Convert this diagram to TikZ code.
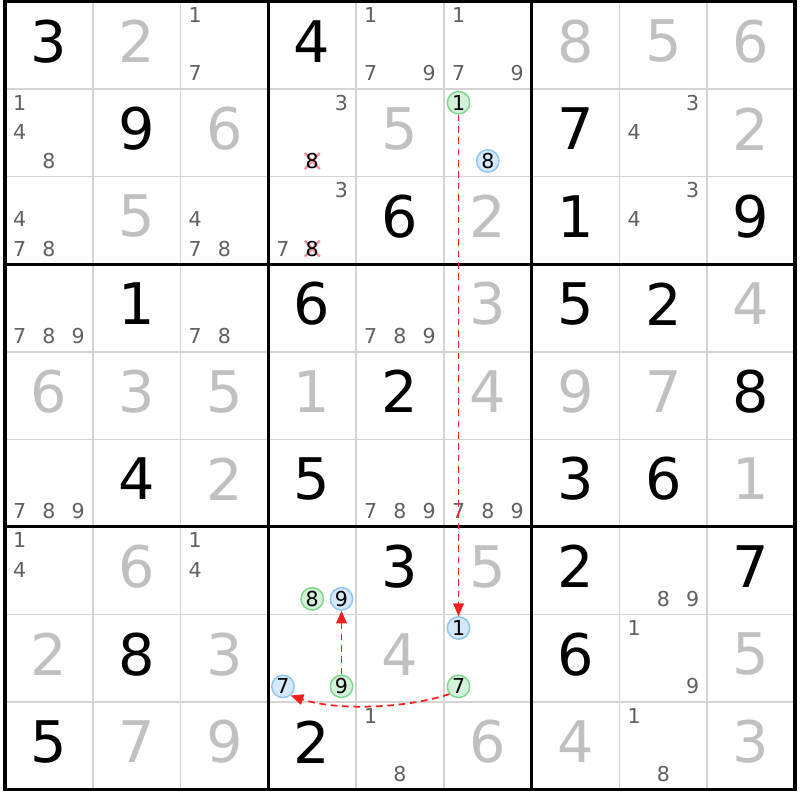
\documentclass[tikz,border=0pt]{standalone}
\usepackage{fontspec}
\setmainfont{DejaVu Sans}
\usetikzlibrary{arrows.meta}
\definecolor{gridgray}{HTML}{D4D4D4}
\definecolor{solvedgray}{HTML}{C0C0C0}
\definecolor{candgray}{HTML}{606060}
\definecolor{hlgreenfill}{HTML}{D3F2D9}
\definecolor{hlgreenline}{HTML}{7DD58E}
\definecolor{hlbluefill}{HTML}{D5E8FB}
\definecolor{hlblueline}{HTML}{8EC5F3}
\definecolor{linkred}{HTML}{F42020}
\definecolor{xpink}{HTML}{F490A0}
\def\CW{87.78}
\def\CH{87.56}
\newcommand\setcandpos[3]{%
  \pgfmathsetmacro\cpx{5+(#2-1)*\CW+(2*mod(#3-1,3)+1)*\CW/6}%
  \pgfmathsetmacro\cpy{1.5+(#1-1)*\CH+(2*floor((#3-1)/3)+1)*\CH/6-1}}
\begin{document}
\begin{tikzpicture}[x=0.75pt,y=-0.75pt,
  bigdigit/.style={font=\fontsize{43}{43}\selectfont, inner sep=0pt, anchor=center},
  givendigit/.style={bigdigit, text=black},
  solveddigit/.style={bigdigit, text=solvedgray},
  canddigit/.style={font=\fontsize{15.4}{15.4}\selectfont, inner sep=0pt, text=candgray},
  elimdigit/.style={canddigit, text=black},
  hlbase/.style={circle, line width=1.1pt, minimum size=16.8pt, inner sep=0pt,
    font=\fontsize{15.4}{15.4}\selectfont, text=black},
  hlgreen/.style={hlbase, draw=hlgreenline, fill=hlgreenfill},
  hlblue/.style={hlbase, draw=hlblueline, fill=hlbluefill},
  thinline/.style={draw=gridgray, line width=1.2pt},
  thickline/.style={draw=black, line width=2.3pt},
  link/.style={draw=linkred, line width=1.3pt, dash pattern=on 5pt off 3.5pt,
    -{Triangle[length=9.5pt,width=8pt,fill=linkred]}},
  xmark/.style={draw=xpink, line width=1.8pt}
]
\useasboundingbox[fill=white] (0,0) rectangle (800,800);
% thin grid lines
\foreach \i in {1,2,4,5,7,8} {
  \draw[thinline] ({5+\i*\CW},1.5) -- ({5+\i*\CW},789.5);
  \draw[thinline] (5,{1.5+\i*\CH}) -- (795,{1.5+\i*\CH});
}
% thick box lines
\foreach \i in {3,6} {
  \draw[thickline] ({5+\i*\CW},1.5) -- ({5+\i*\CW},789.5);
  \draw[thickline] (5,{1.5+\i*\CH}) -- (795,{1.5+\i*\CH});
}
\draw[thickline] (5,1.5) rectangle (795,789.5);
% given digits
\foreach \r/\c/\d in {1/1/3,1/4/4,2/2/9,2/7/7,3/5/6,3/7/1,3/9/9,4/2/1,4/4/6,4/7/5,4/8/2,
  5/5/2,5/9/8,6/2/4,6/4/5,6/7/3,6/8/6,7/5/3,7/7/2,7/9/7,8/2/8,8/7/6,9/1/5,9/4/2} {
  \node[givendigit] (n\r-\c) at ({5+(\c-0.5)*\CW},{1.5+(\r-0.5)*\CH-4}) {\d};
}
% solved digits
\foreach \r/\c/\d in {1/2/2,1/7/8,1/8/5,1/9/6,2/3/6,2/5/5,2/9/2,3/2/5,3/6/2,4/6/3,4/9/4,
  5/1/6,5/2/3,5/3/5,5/4/1,5/6/4,5/7/9,5/8/7,6/3/2,6/9/1,7/2/6,7/6/5,
  8/1/2,8/3/3,8/5/4,8/9/5,9/2/7,9/3/9,9/6/6,9/7/4,9/9/3} {
  \node[solveddigit] (n\r-\c) at ({5+(\c-0.5)*\CW},{1.5+(\r-0.5)*\CH-4}) {\d};
}
% candidates
\foreach \r/\c/\d in {1/3/1,1/3/7,1/5/1,1/5/7,1/5/9,1/6/1,1/6/7,1/6/9,
  2/1/1,2/1/4,2/1/8,2/4/3,2/8/3,2/8/4,
  3/1/4,3/1/7,3/1/8,3/3/4,3/3/7,3/3/8,3/4/3,3/4/7,3/8/3,3/8/4,
  4/1/7,4/1/8,4/1/9,4/3/7,4/3/8,4/5/7,4/5/8,4/5/9,
  6/1/7,6/1/8,6/1/9,6/5/7,6/5/8,6/5/9,6/6/7,6/6/8,6/6/9,
  7/1/1,7/1/4,7/3/1,7/3/4,7/8/8,7/8/9,
  8/8/1,8/8/9,9/5/1,9/5/8,9/8/1,9/8/8} {
  \setcandpos{\r}{\c}{\d}
  \node[canddigit] (k\r-\c-\d) at (\cpx,\cpy) {\d};
}
% eliminated candidates
\foreach \r/\c/\d in {2/4/8,3/4/8} {
  \setcandpos{\r}{\c}{\d}
  \draw[xmark] ({\cpx-7.5},{\cpy-8}) -- ({\cpx+7.5},{\cpy+8})
               ({\cpx-7.5},{\cpy+8}) -- ({\cpx+7.5},{\cpy-8});
  \node[elimdigit] (k\r-\c-\d) at (\cpx,\cpy) {\d};
}
% highlighted candidates
\foreach \r/\c/\d in {2/6/1,7/4/8,8/4/9,8/6/7} {
  \setcandpos{\r}{\c}{\d}
  \node[hlgreen] (k\r-\c-\d) at (\cpx,\cpy) {\d};
}
\foreach \r/\c/\d in {2/6/8,7/4/9,8/4/7,8/6/1} {
  \setcandpos{\r}{\c}{\d}
  \node[hlblue] (k\r-\c-\d) at (\cpx,\cpy) {\d};
}
% links
\draw[link] (k2-6-1) -- (k8-6-1);
\draw[link] (k8-4-9) -- (k7-4-9);
\draw[link] (k8-6-7.-140) .. controls +(-45,15) and +(45,15) .. (k8-4-7.-50);
\end{tikzpicture}
\end{document}
